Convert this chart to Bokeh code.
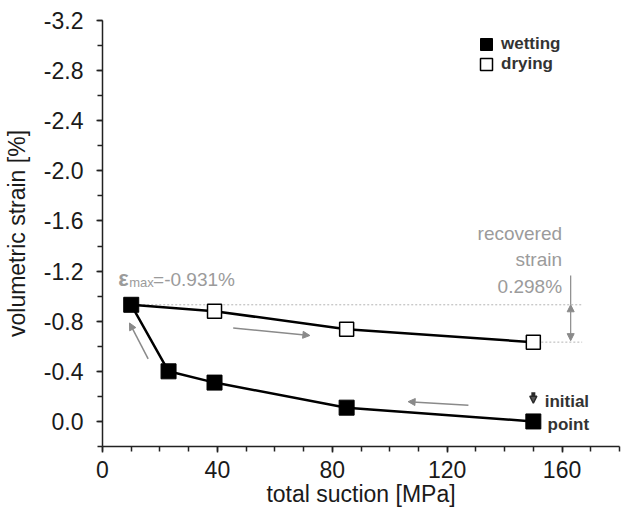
from bokeh.plotting import figure
from bokeh.models import (Range1d, FixedTicker, PrintfTickFormatter, Legend, LegendItem,
                          Label, Arrow, NormalHead)
from bokeh.embed import file_html
from bokeh.resources import INLINE

# ---- data -------------------------------------------------------------
wet_suction = [150, 85, 39, 23, 10]          # MPa (wetting path, from initial point)
wet_strain = [0.0, -0.11, -0.31, -0.40, -0.931]
dry_suction = [39, 85, 150]                   # MPa (drying path)
dry_strain = [-0.88, -0.735, -0.633]
x_ticks = [0, 40, 80, 120, 160]
y_ticks = [-3.2, -2.8, -2.4, -2.0, -1.6, -1.2, -0.8, -0.4, 0.0]

FONT = "Liberation Sans"
TXT = "#1a1a1a"
GRAY_TXT = "#9b9b9b"
GRAY_ARROW = "#8a8a8a"
DOT = "#b4b4b4"

eps_max = wet_strain[-1]
eps_end = dry_strain[-1]
recovered = eps_end - eps_max

p = figure(frame_width=517, frame_height=426,
           min_border_left=101, min_border_right=15, min_border_top=20, min_border_bottom=65,
           x_range=Range1d(0, 180), y_range=Range1d(0.2, -3.2),
           output_backend="svg", toolbar_location=None,
           background_fill_color="white", border_fill_color="white",
           outline_line_color=None)
p.grid.visible = False

# axes
p.xaxis.ticker = FixedTicker(ticks=x_ticks, minor_ticks=[10 * i for i in range(19)])
p.yaxis.ticker = FixedTicker(ticks=y_ticks,
                             minor_ticks=[round(-3.2 + 0.2 * i, 1) for i in range(18)])
p.yaxis.formatter = PrintfTickFormatter(format="%.1f")
p.xaxis.axis_label = "total suction [MPa]"
p.yaxis.axis_label = "volumetric strain [%]"
for ax in (p.xaxis[0], p.yaxis[0]):
    ax.axis_line_color = "#222222"
    ax.axis_line_width = 1.5
    ax.major_tick_line_color = "#222222"
    ax.major_tick_line_width = 1.5
    ax.minor_tick_line_color = "#222222"
    ax.minor_tick_line_width = 1.5
    ax.major_tick_in = 0
    ax.major_tick_out = 6
    ax.minor_tick_in = 0
    ax.minor_tick_out = 5
    ax.major_label_text_font = FONT
    ax.major_label_text_font_size = "23px"
    ax.major_label_text_color = TXT
    ax.axis_label_text_font = FONT
    ax.axis_label_text_font_size = "23px"
    ax.axis_label_text_font_style = "normal"
    ax.axis_label_text_color = TXT
p.xaxis.major_label_standoff = 8
p.xaxis.axis_label_standoff = 0
p.yaxis.major_label_standoff = 13
p.yaxis.axis_label_standoff = 11

# dotted reference lines
p.line([wet_suction[-1], 167], [eps_max, eps_max], line_color=DOT, line_width=1, line_dash="2 2")
p.line([dry_suction[-1], 167], [eps_end, eps_end], line_color=DOT, line_width=1, line_dash="2 2")

# series lines
p.line([wet_suction[-1]] + dry_suction, [wet_strain[-1]] + dry_strain,
       line_color="black", line_width=2.5)
p.line(wet_suction, wet_strain, line_color="black", line_width=2.5)

dry_r = p.scatter(dry_suction, dry_strain, marker="square", size=14,
                  fill_color="white", line_color="black", line_width=1.5)
wet_r = p.scatter(wet_suction, wet_strain, marker="square", size=15,
                  fill_color="black", line_color="black", line_width=1)

# legend (one box per entry so the rows can sit close together)
def legend_box(label, renderer, vy):
    lg = Legend(items=[LegendItem(label=label, renderers=[renderer])],
                location=(369, vy), glyph_width=30, glyph_height=30,
                padding=0, margin=0, label_standoff=-6,
                border_line_color=None, background_fill_alpha=0,
                label_text_font=FONT, label_text_font_style="bold",
                label_text_font_size="17px", label_text_color="#333333")
    p.add_layout(lg)

legend_box("wetting", wet_r, 387)
legend_box("drying", dry_r, 367)

# flow-direction arrows
def gray_arrow(x0, y0, x1, y1):
    p.add_layout(Arrow(end=NormalHead(size=7, fill_color=GRAY_ARROW, line_color=GRAY_ARROW, line_width=1),
                       x_start=x0, y_start=y0, x_end=x1, y_end=y1,
                       line_color=GRAY_ARROW, line_width=1.5))

gray_arrow(15.9, -0.50, 9.4, -0.786)
gray_arrow(45.5, -0.746, 72.2, -0.686)
gray_arrow(127.4, -0.13, 106.4, -0.158)

# recovered strain double arrow
xa = 163
p.add_layout(Arrow(start=NormalHead(size=7, fill_color=GRAY_ARROW, line_color=GRAY_ARROW, line_width=1),
                   end=NormalHead(size=7, fill_color=GRAY_ARROW, line_color=GRAY_ARROW, line_width=1),
                   x_start=xa, y_start=eps_max, x_end=xa, y_end=eps_end - 0.012,
                   line_color=GRAY_ARROW, line_width=1.2))
p.line([xa, xa], [-1.164, eps_max], line_color=GRAY_ARROW, line_width=1.2)

# "initial point" marker arrow (thick, dark)
p.add_layout(Arrow(end=NormalHead(size=7, fill_color="#555555", line_color="#2a2a2a", line_width=1.5),
                   x_start=wet_suction[0], y_start=-0.232, x_end=wet_suction[0], y_end=-0.145,
                   line_color="#2a2a2a", line_width=4))

# texts
p.add_layout(Label(x=5.5, y=-1.14, text="ε", text_font=FONT, text_font_style="bold",
                   text_font_size="22px", text_color=GRAY_TXT, text_baseline="alphabetic"))
p.add_layout(Label(x=9.3, y=-1.108, text="max", text_font=FONT,
                   text_font_size="13px", text_color=GRAY_TXT, text_baseline="alphabetic"))
p.add_layout(Label(x=17.6, y=-1.132, text=f"={eps_max:.3f}%", text_font=FONT,
                   text_font_size="19px", text_color=GRAY_TXT, text_baseline="alphabetic"))

for txt, yy in (("recovered", -1.498), ("strain", -1.29), (f"{recovered:.3f}%", -1.076)):
    p.add_layout(Label(x=160, y=yy, text=txt, text_font=FONT, text_font_size="19px",
                       text_color=GRAY_TXT, text_align="right", text_baseline="alphabetic"))

p.add_layout(Label(x=169.4, y=-0.158, text="initial", text_font=FONT, text_font_style="bold",
                   text_font_size="17px", text_color="#333333", text_align="right",
                   text_baseline="alphabetic"))
p.add_layout(Label(x=169.4, y=0.028, text="point", text_font=FONT, text_font_style="bold",
                   text_font_size="17px", text_color="#333333", text_align="right",
                   text_baseline="alphabetic"))

open("out.html", "w").write(file_html(p, INLINE))
